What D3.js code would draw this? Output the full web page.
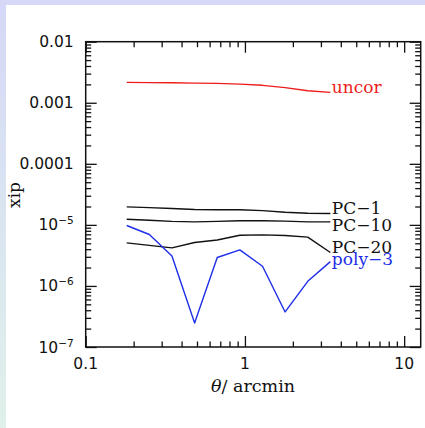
<!DOCTYPE html>
<html><head><meta charset="utf-8">
<script src="https://cdn.jsdelivr.net/npm/d3@7"></script>
<style>
html,body{margin:0;padding:0;}
body{width:425px;height:428px;overflow:hidden;}
</style></head>
<body>
<svg id="c" width="425" height="428"></svg>
<script>
// ---- data ----
const theta = [0.181, 0.251, 0.348, 0.483, 0.670, 0.929, 1.289, 1.788, 2.48, 3.44];
const uncor = [2.16e-3, 2.14e-3, 2.13e-3, 2.10e-3, 2.08e-3, 2.02e-3, 1.93e-3, 1.77e-3, 1.57e-3, 1.48e-3];
const pc1   = [1.97e-5, 1.92e-5, 1.85e-5, 1.79e-5, 1.77e-5, 1.77e-5, 1.71e-5, 1.61e-5, 1.55e-5, 1.54e-5];
const pc10  = [1.24e-5, 1.19e-5, 1.14e-5, 1.12e-5, 1.14e-5, 1.17e-5, 1.17e-5, 1.15e-5, 1.12e-5, 1.12e-5];
const pc20  = [5.07e-6, 4.61e-6, 4.20e-6, 5.14e-6, 5.65e-6, 6.77e-6, 6.85e-6, 6.70e-6, 6.29e-6, 3.53e-6];
const poly3 = [9.77e-6, 6.96e-6, 3.10e-6, 2.47e-7, 2.92e-6, 3.89e-6, 2.10e-6, 3.75e-7, 1.19e-6, 2.50e-6];
const seriesNames = ["uncor", "PC\u22121", "PC\u221210", "PC\u221220", "poly\u22123"];
const xTickLabels = ["0.1", "1", "10"];
const yTickLabels = [["0.01",""],["0.001",""],["0.0001",""],["10","\u22125"],["10","\u22126"],["10","\u22127"]];

// ---- layout ----
const svg = d3.select("#c");
const W = 425, H = 428;
const L = 85.7, R = 420.7, T = 41.7, B = 347;

const defs = svg.append("defs");
const g1 = defs.append("linearGradient").attr("id","bg").attr("x1",0).attr("y1",0).attr("x2",0).attr("y2",1);
g1.append("stop").attr("offset","0").attr("stop-color","#d5d8f7");
g1.append("stop").attr("offset","1").attr("stop-color","#dff1ea");
svg.append("rect").attr("width",W).attr("height",H).attr("fill","url(#bg)");
svg.append("rect").attr("x",6).attr("y",5).attr("width",W-6).attr("height",H-5).attr("fill","#fff");

const x = d3.scaleLog().domain([0.1, 12.7]).range([L, R]);
const y = d3.scaleLog().domain([1e-7, 1e-2]).range([B, T]);

const isMajor = v => Math.abs(Math.log10(v) - Math.round(Math.log10(v))) < 1e-6;
const xt = x.ticks().filter(v => v >= 0.1 && v <= 12.7);
const yt = y.ticks();
const xMaj = xt.filter(isMajor), xMin = xt.filter(v => !isMajor(v));
const yMaj = yt.filter(isMajor), yMin = yt.filter(v => !isMajor(v));

function tickAxis(axisFn, scale, vals, size, transform){
  const gg = svg.append("g").attr("transform", transform)
    .call(axisFn(scale).tickValues(vals).tickSize(size).tickSizeOuter(0).tickFormat(""));
  gg.select(".domain").remove();
  gg.selectAll("line").attr("stroke","#111").attr("stroke-width",1.3);
}
tickAxis(d3.axisBottom, x, xMaj, -11, `translate(0,${B})`);
tickAxis(d3.axisBottom, x, xMin, -5.5, `translate(0,${B})`);
tickAxis(d3.axisTop, x, xMaj, -11, `translate(0,${T})`);
tickAxis(d3.axisTop, x, xMin, -5.5, `translate(0,${T})`);
tickAxis(d3.axisLeft, y, yMaj, -11, `translate(${L},0)`);
tickAxis(d3.axisLeft, y, yMin, -5.5, `translate(${L},0)`);
tickAxis(d3.axisRight, y, yMaj, -11, `translate(${R},0)`);
tickAxis(d3.axisRight, y, yMin, -5.5, `translate(${R},0)`);

svg.append("rect").attr("x",L).attr("y",T).attr("width",R-L).attr("height",B-T)
  .attr("fill","none").attr("stroke","#111").attr("stroke-width",1.5);

// tick labels
const sans = "'DejaVu Sans', sans-serif";
const serif = "'DejaVu Serif', serif";
svg.append("g").selectAll("text").data(xMaj).join("text")
  .attr("x", d => x(d)).attr("y", B + 21.5)
  .attr("text-anchor","middle").attr("font-family",sans).attr("font-size",15.5).attr("fill","#111")
  .text((d,i) => xTickLabels[i]);

const yl = svg.append("g").selectAll("text").data(yMaj.slice().reverse()).join("text")
  .attr("x", L - 12).attr("y", d => y(d) + 5.5)
  .attr("text-anchor","end").attr("font-family",sans).attr("font-size",15.5).attr("fill","#111");
yl.each(function(d,i){
  const lab = yTickLabels[i];
  const t = d3.select(this);
  t.append("tspan").text(lab[0]);
  if (lab[1]) t.append("tspan").attr("dy",-6).attr("font-size",10.5).text(lab[1]);
});

// lines
const series = [uncor, pc1, pc10, pc20, poly3];
const colors = ["#ee1c1c","#111","#111","#111","#1e2ee8"];
const labelDy = [1, 0.5, 9, 1, 3];
const line = d3.line().x((d,i) => x(theta[i])).y(d => y(d));
series.forEach((s, k) => {
  svg.append("path").attr("d", line(s)).attr("fill","none")
    .attr("stroke", colors[k]).attr("stroke-width",1.4).attr("stroke-linejoin","round");
  svg.append("text").attr("x", x(theta[theta.length-1]) + 1.5)
    .attr("y", y(s[s.length-1]) + labelDy[k])
    .attr("font-family",serif).attr("font-size",17).attr("fill",colors[k])
    .text(seriesNames[k]);
});

// axis titles
const xt2 = svg.append("text").attr("x", 253).attr("y", 391.5).attr("text-anchor","middle")
  .attr("font-family",serif).attr("font-size",17.5).attr("fill","#111");
xt2.append("tspan").attr("font-style","italic").text("\u03B8");
xt2.append("tspan").text("/  arcmin");

svg.append("text").attr("transform","translate(20,195) rotate(-90)").attr("text-anchor","middle")
  .attr("font-family",serif).attr("font-size",17).attr("fill","#111").text("xip");
</script>
</body></html>
